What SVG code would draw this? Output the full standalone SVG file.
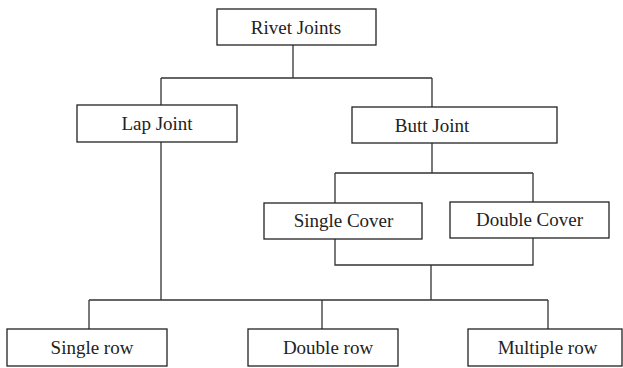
<svg xmlns="http://www.w3.org/2000/svg" width="623" height="368" viewBox="0 0 623 368">
<style>
.box{fill:#fff;stroke:#222;stroke-width:1.3}
.lbl{font-family:"Liberation Serif","Times New Roman",serif;font-size:19px;fill:#222;text-anchor:middle}
.ln{fill:none;stroke:#333;stroke-width:1.3}
</style>
<rect width="623" height="368" fill="#fff"/>
<g id="connectors">
<path class="ln" d="M293,45 V78 M161,78 H432 M161,78 V105 M432,78 V107"/>
<path class="ln" d="M432,143 V173 M335,173 H533 M335,173 V203 M533,173 V202"/>
<path class="ln" d="M335,239 V265 H533 V238 M431,265 V300"/>
<path class="ln" d="M161,142 V300 M89,300 H548 M89,300 V329 M322,300 V329 M548,300 V329"/>
</g>
<g id="rivet-joints"><rect class="box" x="217" y="9" width="159" height="36"/><text class="lbl" x="296" y="34">Rivet Joints</text></g>
<g id="lap-joint"><rect class="box" x="77" y="105" width="160" height="37"/><text class="lbl" x="157" y="130">Lap Joint</text></g>
<g id="butt-joint"><rect class="box" x="352" y="107" width="205" height="36"/><text class="lbl" x="432" y="132">Butt Joint</text></g>
<g id="single-cover"><rect class="box" x="264" y="203" width="158" height="36"/><text class="lbl" x="343.5" y="227">Single Cover</text></g>
<g id="double-cover"><rect class="box" x="450" y="202" width="159" height="36"/><text class="lbl" x="529.5" y="226">Double Cover</text></g>
<g id="single-row"><rect class="box" x="7" y="329" width="160" height="37"/><text class="lbl" x="92" y="354">Single row</text></g>
<g id="double-row"><rect class="box" x="248" y="329" width="150" height="37"/><text class="lbl" x="328" y="354">Double row</text></g>
<g id="multiple-row"><rect class="box" x="468" y="329" width="154" height="37"/><text class="lbl" x="547.5" y="354">Multiple row</text></g>
</svg>
